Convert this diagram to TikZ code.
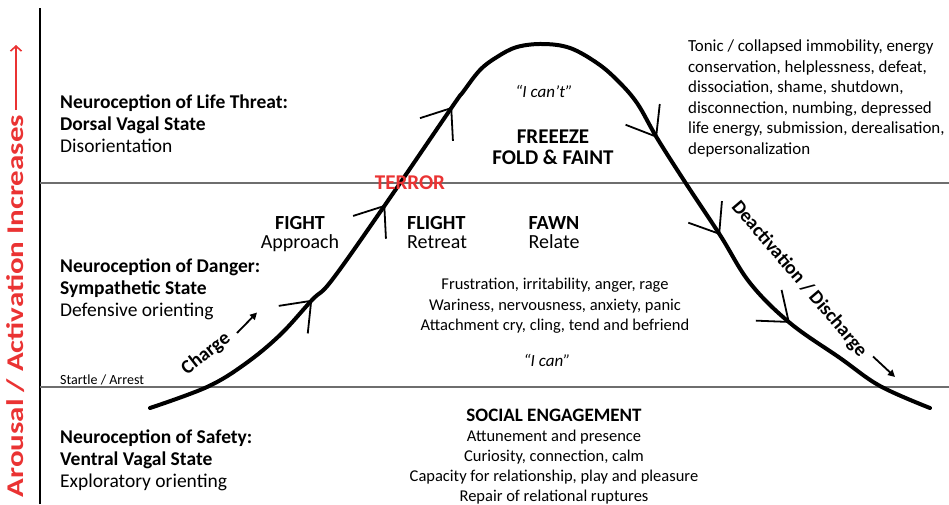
\documentclass[tikz,border=0pt]{standalone}
\usepackage{fontspec}
\setmainfont{Carlito}
\usetikzlibrary{arrows.meta, decorations.markings}

\definecolor{alarmred}{RGB}{234,51,51}
\definecolor{bandgray}{RGB}{110,110,110}

\begin{document}
\begin{tikzpicture}[x=1pt, y=-1pt,
  state/.style={anchor=base west, align=left, inner sep=0pt, font=\fontsize{19.5}{22}\selectfont},
  body/.style={anchor=base, align=center, inner sep=0pt, font=\fontsize{16.5}{20.5}\selectfont},
  quote/.style={anchor=base, inner sep=0pt, font=\itshape\fontsize{17}{20}\selectfont},
  mode/.style={anchor=base, align=center, inner sep=0pt, font=\fontsize{20}{19.5}\selectfont},
  slant/.style={inner sep=0pt, font=\bfseries\fontsize{19.5}{20}\selectfont},
  band/.style={bandgray, line width=1.3pt},
  flow/.style={line width=1.8pt, -{Triangle[length=7pt, width=7pt]}},
  vtip/.tip={Straight Barb[length=26pt, width=40pt, line width=1.8pt]}]
\useasboundingbox (0,0) rectangle (949,504);

% axis and bands
\draw[line width=2pt] (40,504) -- (40,8);
\draw[band] (40,183) -- (949,183);
\draw[band] (40,387) -- (949,387);

\node[text=alarmred, font=\bfseries\fontsize{24}{24}\selectfont, rotate=90, xscale=1.29, inner sep=0pt] (arousal) at (16,306) {Arousal / Activation Increases};
\coordinate (arousalfoot) at (16,110);
\coordinate (arousaltip) at (16,45);
\draw[alarmred, line width=1.6pt, -{Straight Barb[length=5pt, width=11pt]}] (arousalfoot) -- (arousaltip);

% the curve
\draw[line width=4pt, line cap=round, postaction={decorate},
  decoration={markings,
    mark=at position 0.180 with {\arrow{vtip}},
    mark=at position 0.289 with {\arrow{vtip}},
    mark=at position 0.3965 with {\arrow{vtip}},
    mark=at position 0.643 with {\arrow{vtip}},
    mark=at position 0.748 with {\arrow{vtip}},
    mark=at position 0.8506 with {\arrow{vtip}}}]
  plot[smooth, tension=0.6] coordinates {(150,408) (207,387) (245,364) (280,335) (312,300) (332,280) (385,205) (452,107) (463,92) (480,70) (497,57) (517,47) (543,44) (570,48) (597,63) (617,80) (637,103) (657,138) (685,182) (720,235) (750,283) (790,323) (840,358) (880,386) (930,408)};

% states on the left (base = last line)
\node[state] (threat) at (60,152) {\textbf{Neuroception of Life Threat:}\\\textbf{Dorsal Vagal State}\\Disorientation};
\node[state] (danger) at (60,316) {\textbf{Neuroception of Danger:}\\\textbf{Sympathetic State}\\Defensive orienting};
\node[state] (safety) at (60,487) {\textbf{Neuroception of Safety:}\\\textbf{Ventral Vagal State}\\Exploratory orienting};
\node[anchor=base west, inner sep=0pt, font=\fontsize{14}{16}\selectfont] (startle) at (60,384) {Startle / Arrest};

% dorsal
\node[body, anchor=base west, align=left, font=\fontsize{16.9}{20.5}\selectfont] (shutdown) at (688,154) {Tonic / collapsed immobility, energy\\conservation, helplessness, defeat,\\dissociation, shame, shutdown,\\disconnection, numbing, depressed\\life energy, submission, derealisation,\\depersonalization};
\node[quote] (cant) at (544,97) {“I can’t”};
\node[mode, font=\bfseries\fontsize{21}{20.7}\selectfont] (freeze) at (553,164) {FREEEZE\\FOLD \& FAINT};
\node[text=alarmred, font=\bfseries\fontsize{21}{21}\selectfont, inner sep=0pt] (terror) at (410,183) {TERROR};

% sympathetic
\node[mode] (fight) at (300,248.5) {\textbf{FIGHT}\\Approach};
\node[mode, anchor=base west, align=left] (flight) at (407,248.5) {\textbf{FLIGHT}\\Retreat};
\node[mode] (fawn) at (554,248.5) {\textbf{FAWN}\\Relate};
\node[body, font=\fontsize{16.5}{20.7}\selectfont] (sympath) at (555,330.7) {Frustration, irritability, anger, rage\\Wariness, nervousness, anxiety, panic\\Attachment cry, cling, tend and befriend};
\node[quote] (can) at (547,366) {“I can”};

% ventral
\node[anchor=base, inner sep=0pt, font=\bfseries\fontsize{19}{20}\selectfont] (social) at (554,421.7) {SOCIAL ENGAGEMENT};
\node[body, font=\fontsize{16.5}{20}\selectfont] (ventral) at (554,501.7) {Attunement and presence\\Curiosity, connection, calm\\Capacity for relationship, play and pleasure\\Repair of relational ruptures};

% charge / discharge
\node[slant, rotate=38] (charge) at (206,354) {Charge};
\coordinate (chargefoot) at (237,333);
\coordinate (chargetip) at (257,312.5);
\draw[flow] (chargefoot) -- (chargetip);
\node[slant, rotate=-49.5] (discharge) at (799,279) {Deactivation / Discharge};
\coordinate (dischargefoot) at (873,356.5);
\coordinate (dischargetip) at (895,377);
\draw[flow] (dischargefoot) -- (dischargetip);
\end{tikzpicture}
\end{document}
